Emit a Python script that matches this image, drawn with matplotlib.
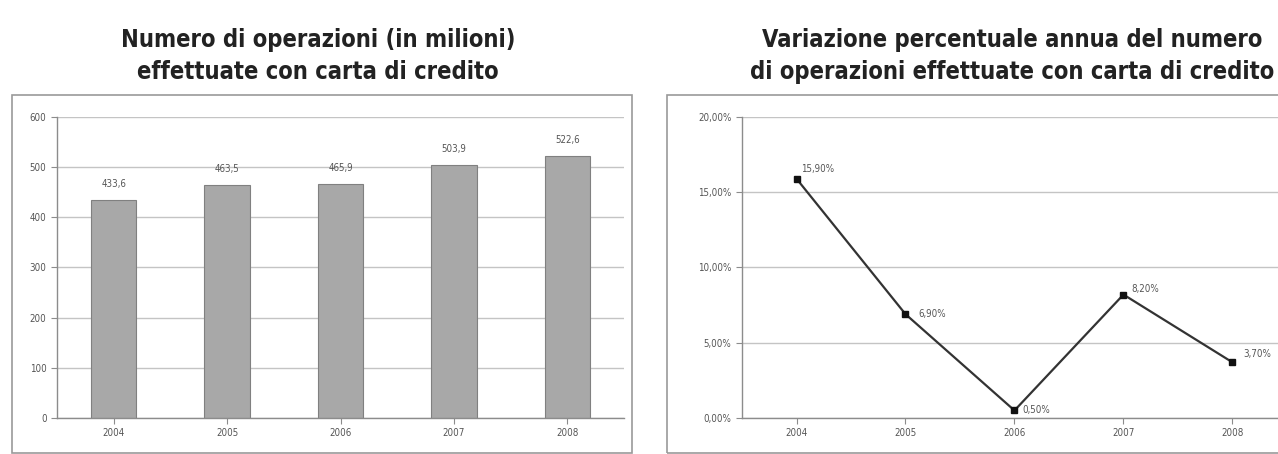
import matplotlib
matplotlib.use("Agg")
import matplotlib.pyplot as plt
from matplotlib.patches import Rectangle

# Card transactions data, 2004-2008
years = ["2004", "2005", "2006", "2007", "2008"]
operations = [433.6, 463.5, 465.9, 503.9, 522.6]          # millions
operations_labels = ["433,6", "463,5", "465,9", "503,9", "522,6"]
growth_pct = [15.9, 6.9, 0.5, 8.2, 3.7]                  # annual % change
growth_labels = ["15,90%", "6,90%", "0,50%", "8,20%", "3,70%"]

FONT = ["DejaVu Sans"]
GRID = "#c4c4c4"
TEXT = "#555555"

fig = plt.figure(figsize=(12.78, 4.54), dpi=100)
fig.patch.set_facecolor("white")

# outer frames around each chart
for x0 in (0.0094, 0.5219):
    fig.patches.append(Rectangle((x0, 0.0022), 0.485, 0.7885, transform=fig.transFigure,
                                 fill=False, edgecolor="#9a9a9a", linewidth=1.2))

title_kw = dict(ha="center", va="center", fontsize=17, fontweight="bold", family=FONT,
                fontstretch="condensed", color="#222222", linespacing=1.4)
fig.text(0.249, 0.877, "Numero di operazioni (in milioni)\neffettuate con carta di credito",
         **title_kw)
fig.text(0.792, 0.877, "Variazione percentuale annua del numero\ndi operazioni effettuate con carta di credito",
         **title_kw)


def style_axes(ax):
    ax.set_facecolor("white")
    for side in ("top", "right"):
        ax.spines[side].set_visible(False)
    for side in ("left", "bottom"):
        ax.spines[side].set_color("#8c8c8c")
        ax.spines[side].set_linewidth(1.0)
    ax.grid(axis="y", color=GRID, linewidth=1.0)
    ax.set_axisbelow(True)
    ax.tick_params(axis="both", labelsize=7, colors="#8c8c8c", labelcolor=TEXT,
                   length=4, width=0.8)
    for lbl in ax.get_xticklabels() + ax.get_yticklabels():
        lbl.set_family(FONT)
        lbl.set_stretch("condensed")


# ---- left: bar chart of operations ----
ax1 = fig.add_axes([0.0446, 0.0793, 0.4437, 0.663])
x = range(len(years))
ax1.bar(x, operations, width=0.4, color="#a8a8a8", edgecolor="#808080", linewidth=0.8, zorder=2)
ax1.set_xlim(-0.5, len(years) - 0.5)
ax1.set_ylim(0, 600)
ax1.set_yticks(range(0, 601, 100))
ax1.set_xticks(list(x))
ax1.set_xticklabels(years)
style_axes(ax1)
for xi, v, lab in zip(x, operations, operations_labels):
    ax1.annotate(lab, (xi, v), xytext=(0, 8), textcoords="offset points",
                 ha="center", va="bottom", fontsize=7, color=TEXT, family=FONT,
                 fontstretch="condensed")

# ---- right: line chart of annual growth ----
ax2 = fig.add_axes([0.5806, 0.0793, 0.4264, 0.663])
ax2.plot(list(x), growth_pct, color="#333333", linewidth=1.6, marker="s",
         markersize=5, markerfacecolor="#111111", markeredgecolor="#111111", zorder=3)
ax2.set_xlim(-0.5, len(years) - 0.5)
ax2.set_ylim(0, 20)
ax2.set_yticks(range(0, 21, 5))
ax2.set_yticklabels([f"{v},00%" for v in range(0, 21, 5)])
ax2.set_xticks(list(x))
ax2.set_xticklabels(years)
style_axes(ax2)
offsets = [(3, 7), (9, 0), (6, 0), (6, 4), (8, 6)]
for xi, v, lab, off in zip(x, growth_pct, growth_labels, offsets):
    ax2.annotate(lab, (xi, v), xytext=off, textcoords="offset points",
                 ha="left", va="center", fontsize=7, color=TEXT, family=FONT,
                 fontstretch="condensed")

fig.savefig("out.png", dpi=100, facecolor="white")
